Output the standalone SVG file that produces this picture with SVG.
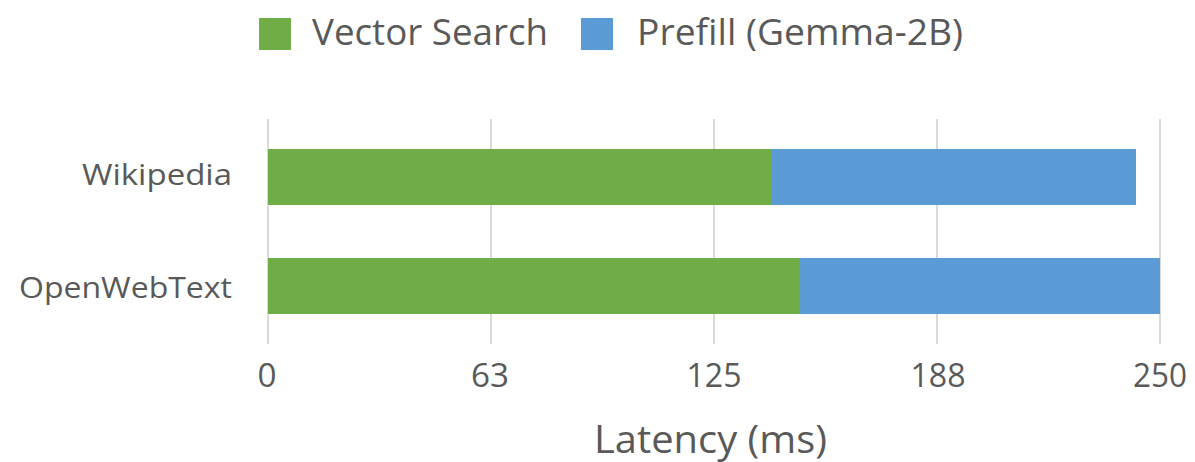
<svg xmlns="http://www.w3.org/2000/svg" width="1195" height="462" viewBox="0 0 1195 462">
  <style>
    .lbl { font-family: "Open Sans", "Liberation Sans", sans-serif; fill: #595959; }
    .grid { stroke: #d9d9d9; stroke-width: 2; }
    .vs { fill: #70ad47; }
    .pf { fill: #5b9bd5; }
  </style>
  <rect width="1195" height="462" fill="#ffffff"/>

  <!-- gridlines: 0, 63, 125, 188, 250 ms -->
  <g id="gridlines">
    <line class="grid" x1="268" y1="119" x2="268" y2="344"/>
    <line class="grid" x1="491" y1="119" x2="491" y2="344"/>
    <line class="grid" x1="714" y1="119" x2="714" y2="344"/>
    <line class="grid" x1="937" y1="119" x2="937" y2="344"/>
    <line class="grid" x1="1160" y1="119" x2="1160" y2="344"/>
  </g>

  <!-- legend -->
  <g id="legend">
    <rect class="vs" x="259" y="18" width="32" height="32"/>
    <text class="lbl" x="312" y="45" font-size="37" textLength="236" lengthAdjust="spacingAndGlyphs">Vector Search</text>
    <rect class="pf" x="581" y="18" width="32" height="32"/>
    <text class="lbl" x="637" y="45" font-size="37" textLength="326" lengthAdjust="spacingAndGlyphs">Prefill (Gemma-2B)</text>
  </g>

  <!-- stacked bars -->
  <g id="bar-wikipedia">
    <rect class="vs" x="268" y="149" width="503" height="56"/>
    <rect class="pf" x="771" y="149" width="365" height="56"/>
  </g>
  <g id="bar-openwebtext">
    <rect class="vs" x="268" y="258" width="532" height="56"/>
    <rect class="pf" x="800" y="258" width="360" height="56"/>
  </g>

  <!-- category axis -->
  <g id="category-labels">
    <text class="lbl" x="232" y="185" font-size="30" text-anchor="end" textLength="150" lengthAdjust="spacingAndGlyphs">Wikipedia</text>
    <text class="lbl" x="232" y="298" font-size="30" text-anchor="end" textLength="213" lengthAdjust="spacingAndGlyphs">OpenWebText</text>
  </g>

  <!-- value axis -->
  <g id="value-axis">
    <text class="lbl" x="267" y="387" font-size="32" text-anchor="middle" textLength="19" lengthAdjust="spacingAndGlyphs">0</text>
    <text class="lbl" x="490" y="387" font-size="32" text-anchor="middle" textLength="38" lengthAdjust="spacingAndGlyphs">63</text>
    <text class="lbl" x="714" y="387" font-size="32" text-anchor="middle" textLength="55" lengthAdjust="spacingAndGlyphs">125</text>
    <text class="lbl" x="938" y="387" font-size="32" text-anchor="middle" textLength="55" lengthAdjust="spacingAndGlyphs">188</text>
    <text class="lbl" x="1160" y="387" font-size="32" text-anchor="middle" textLength="54" lengthAdjust="spacingAndGlyphs">250</text>
    <text class="lbl" x="594" y="453" font-size="39" textLength="233" lengthAdjust="spacingAndGlyphs">Latency (ms)</text>
  </g>
</svg>
